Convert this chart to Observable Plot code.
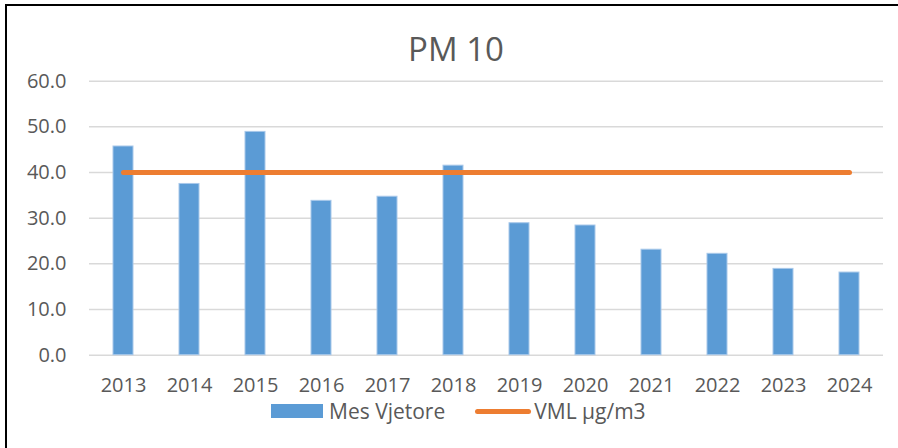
<!DOCTYPE html>
<html>
<head>
<meta charset="utf-8">
<script src="https://cdn.jsdelivr.net/npm/d3@7"></script>
<script src="https://cdn.jsdelivr.net/npm/@observablehq/plot@0.6"></script>
<style>
  html, body { margin: 0; padding: 0; background: #fff; }
  #wrap { position: relative; width: 898px; height: 448px; overflow: hidden; font-family: "Open Sans", sans-serif; color: #595959; }
  #frame { position: absolute; left: 5px; top: 4px; width: 900px; height: 450px; border-top: 2px solid #000; border-left: 2px solid #000; }
  #title { position: absolute; left: 0; width: 912px; top: 32px; text-align: center; font-size: 33px; line-height: 1; }
  #chart { position: absolute; left: 0; top: 60px; }
  #legend { position: absolute; left: 271px; top: 400px; height: 22px; display: flex; align-items: center; font-size: 21px; line-height: 1; white-space: nowrap; }
  .sw { width: 52px; height: 14px; background: #5B9BD5; margin-right: 6px; }
  .ln { width: 56px; height: 5px; border-radius: 3px; background: #ED7D31; margin-left: 30px; margin-right: 3px; }
</style>
</head>
<body>
<div id="wrap">
  <div id="frame"></div>
  <div id="title"></div>
  <div id="chart"></div>
  <div id="legend"></div>
</div>
<script>
const titleText = "PM 10";
const years = ["2013","2014","2015","2016","2017","2018","2019","2020","2021","2022","2023","2024"];
const mesVjetore = [45.7, 37.5, 48.9, 33.8, 34.7, 41.5, 28.9, 28.4, 23.1, 22.2, 18.9, 18.1];
const vml = [40, 40, 40, 40, 40, 40, 40, 40, 40, 40, 40, 40];
const yTicks = [0, 10, 20, 30, 40, 50, 60];
const seriesNames = ["Mes Vjetore", "VML µg/m3"];
const colors = ["#5B9BD5", "#ED7D31"];

const rows = years.map((y, i) => ({year: y, mes: mesVjetore[i], vml: vml[i]}));

document.getElementById("title").textContent = titleText;

const chart = Plot.plot({
  width: 898,
  height: 340,
  marginLeft: 89,
  marginRight: 15,
  marginTop: 20.7,
  marginBottom: 45.3,
  style: {fontFamily: "'Open Sans', sans-serif", fontSize: "20px", color: "#595959", background: "transparent", overflow: "visible"},
  x: {domain: years, paddingInner: 0.7, paddingOuter: 0.35, label: null, tickSize: 0, tickPadding: 23},
  y: {domain: [0, 60], ticks: yTicks, tickFormat: d3.format(".1f"), label: null, tickSize: 0, tickPadding: 23},
  marks: [
    Plot.ruleY(yTicks, {stroke: "#d9d9d9", strokeWidth: 1.5}),
    Plot.barY(rows, {x: "year", y: "mes", fill: colors[0], stroke: "#a8c8ea", strokeWidth: 1}),
    Plot.line(rows, {x: "year", y: "vml", stroke: colors[1], strokeWidth: 5, strokeLinecap: "round"})
  ]
});
document.getElementById("chart").appendChild(chart);

const legend = document.getElementById("legend");
const sw = document.createElement("div"); sw.className = "sw"; legend.appendChild(sw);
const t1 = document.createElement("span"); t1.textContent = seriesNames[0]; legend.appendChild(t1);
const ln = document.createElement("div"); ln.className = "ln"; legend.appendChild(ln);
const t2 = document.createElement("span"); t2.textContent = seriesNames[1]; legend.appendChild(t2);
</script>
</body>
</html>
